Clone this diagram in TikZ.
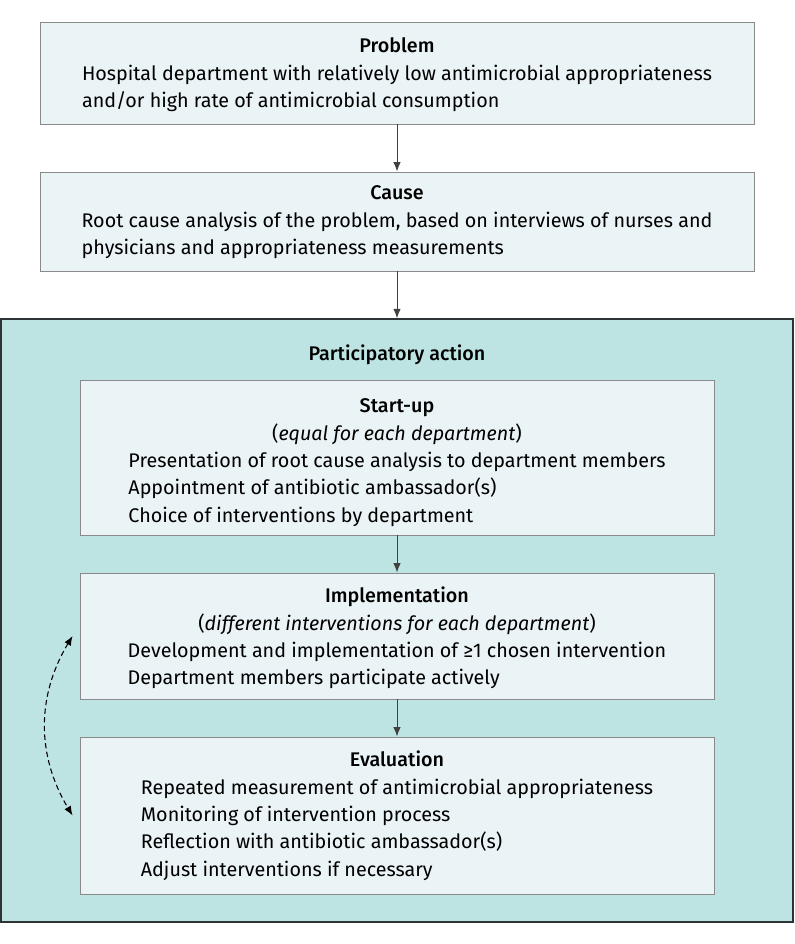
\documentclass[tikz,border=0pt]{standalone}
\usepackage{fontspec}
\setmainfont{Fira Sans}[BoldFont={Fira Sans Medium}]
\usepackage{xcolor}
\usepackage{tikz}
\usetikzlibrary{shapes,arrows,arrows.meta,positioning,calc}

\definecolor{boxfill}{HTML}{EAF3F5}
\definecolor{actfill}{HTML}{BEE3E3}
\definecolor{boxline}{HTML}{8A8A8A}
\definecolor{actline}{HTML}{2E3436}

\begin{document}
\begin{tikzpicture}[x=0.75pt, y=-0.75pt, >={Latex[length=7pt,width=5.5pt]},
  every node/.style={font=\fontsize{14.8}{20.5}\selectfont},
  stagebox/.style={draw=boxline, fill=boxfill, line width=0.7pt, rectangle, align=center, inner sep=0pt}]

\useasboundingbox (0,0) rectangle (794,944);

% Outer participatory action frame
\node[draw=actline, fill=actfill, line width=1.1pt, rectangle, minimum width=593.7pt, minimum height=452.25pt, inner sep=0pt] (act) at (397,620.5) {};
\node[anchor=base] (acttitle) at (397,360) {\bfseries Participatory action};

% Problem and cause
\node[stagebox, minimum width=535.5pt, minimum height=76.5pt] (problem) at (397,73) {\rule{0pt}{17.1pt}\bfseries Problem\\
  \begin{tabular}[t]{@{}l@{}}Hospital department with relatively low antimicrobial appropriateness\\
  and/or high rate of antimicrobial consumption\end{tabular}};
\node[stagebox, minimum width=535.5pt, minimum height=74.25pt] (cause) at (397,221.5) {\rule{0pt}{14.9pt}\bfseries Cause\\
  \begin{tabular}[t]{@{}l@{}}Root cause analysis of the problem, based on interviews of nurses and\\
  physicians and appropriateness measurements\end{tabular}};

% Stages of the action
\node[stagebox, minimum width=475.5pt, minimum height=116.25pt] (startup) at (397,457.5) {\rule{0pt}{21.3pt}\bfseries Start-up\\
  (\textit{equal for each department})\\
  \begin{tabular}[t]{@{}l@{}}Presentation of root cause analysis to department members\\
  Appointment of antibiotic ambassador(s)\\
  Choice of interventions by department\end{tabular}};
\node[stagebox, minimum width=475.5pt, minimum height=94.5pt] (impl) at (397,636) {\rule{0pt}{18pt}\bfseries Implementation\\
  (\textit{different interventions for each department})\\
  \begin{tabular}[t]{@{}l@{}}Development and implementation of ≥1 chosen intervention\\
  Department members participate actively\end{tabular}};
\node[stagebox, minimum width=475.5pt, minimum height=117.75pt] (eval) at (397,815.5) {\rule{0pt}{15.3pt}\bfseries Evaluation\\
  \begin{tabular}[t]{@{}l@{}}Repeated measurement of antimicrobial appropriateness\\
  Monitoring of intervention process\\
  Reflection with antibiotic ambassador(s)\\
  Adjust interventions if necessary\end{tabular}};

% Connections
\foreach \from/\to in {problem/cause, cause/act, startup/impl, impl/eval}
    \draw[->, line width=0.75pt, draw=black!75] (\from) -- (\to);

% Feedback loop (dashed)
\draw[<->, dashed, dash pattern=on 4pt off 2.5pt, line width=0.8pt] ([xshift=-5.25pt]impl.west) to[bend right=31] ([xshift=-5.25pt]eval.west);

\end{tikzpicture}
\end{document}
